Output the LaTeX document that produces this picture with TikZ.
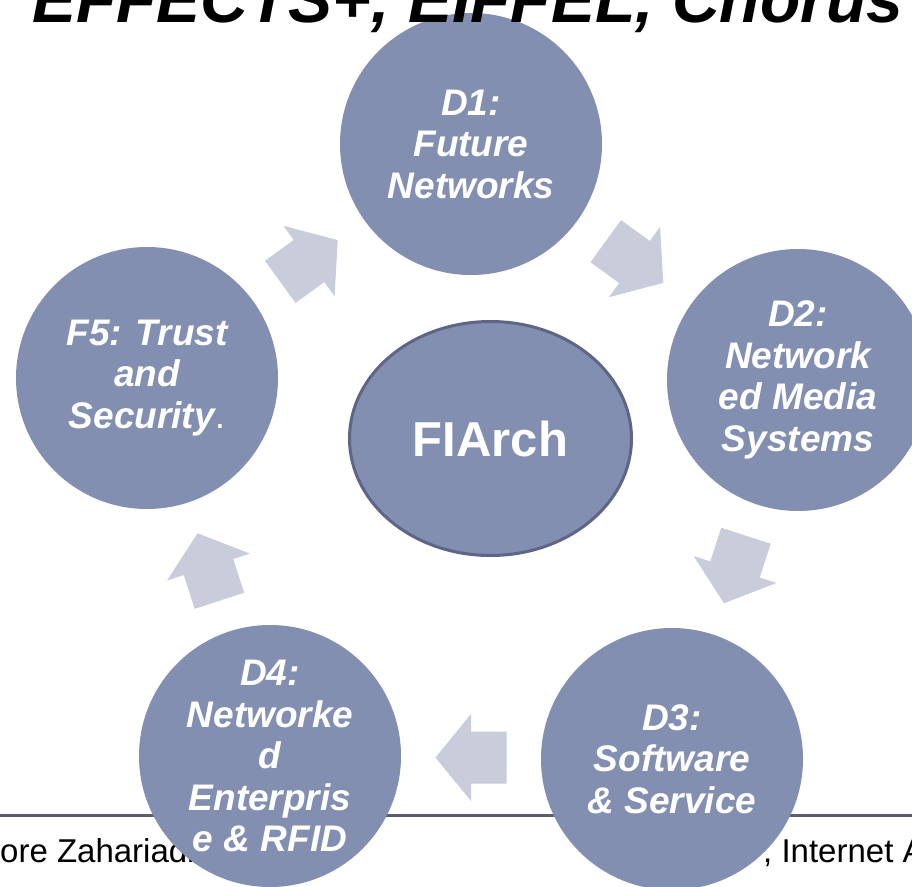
\documentclass[tikz,border=0pt]{standalone}
\usepackage{fontspec}
\setmainfont{Liberation Sans}
\usetikzlibrary{calc,shapes.geometric}
\definecolor{circfill}{HTML}{828FB0}
\definecolor{ellborder}{HTML}{5E6587}
\definecolor{arrfill}{HTML}{C9CCDA}
\definecolor{footline}{HTML}{5D5D72}
\begin{document}
\begin{tikzpicture}[x=1pt,y=1pt,
  stage/.style={circle, fill=circfill, minimum size=262pt, inner sep=0pt,
    text=white, align=center, font=\bfseries\itshape\fontsize{37}{41.5}\selectfont},
  hub/.style={ellipse, fill=circfill, draw=ellborder, line width=3pt,
    minimum width=282pt, minimum height=234pt, inner sep=0pt,
    text=white, font=\bfseries\fontsize{49}{55}\selectfont},
  blockarrow/.style={fill=arrfill},
  footer/.style={anchor=base west, inner sep=0pt, font=\fontsize{33}{38}\selectfont},
  title/.style={anchor=base west, inner sep=0pt, font=\bfseries\itshape\fontsize{66}{70}\selectfont}
]
\useasboundingbox (0,0) rectangle (912,-886);
\clip (0,0) rectangle (912,-886);
\fill[white] (0,0) rectangle (912,-886);

% footer rule and texts
\coordinate (fl) at (0,-815);
\coordinate (fr) at (912,-815);
\draw[footline, line width=3pt] (fl) -- (fr);
\node[footer] (foot1) at (0,-862) {\llap{Theod}ore Zahariadis};
\node[footer] (foot2) at (763,-862) {, Internet Architecture};

% stages
\node[stage] (d1) at (471,-144) {D1:\\Future\\Networks};
\node[stage] (d2) at (798,-380) {D2:\\Network\\ed Media\\Systems};
\node[stage] (d3) at (672,-759) {D3:\\Software\\\& Service};
\node[stage] (d4) at (270,-756) {D4:\\Networke\\d\\Enterpris\\e \& RFID};
\node[stage] (f5) at (147,-378) {F5: Trust\\and\\Security{\normalfont.}};

% hub
\node[hub] (hub) at (490.5,-438.5) {FIArch};

% block arrows between stages
\foreach \a/\b/\ang in {f5/d1/36, d1/d2/-36, d2/d3/-108, d3/d4/180, d4/f5/108}{
  \coordinate (m-\a) at ($(\a)!0.5!(\b)$);
  \fill[blockarrow, shift={(m-\a)}, rotate=\ang]
    (35.5,0) -- (0,43.5) -- (0,26) -- (-35.5,26) -- (-35.5,-26) -- (0,-26) -- (0,-43.5) -- cycle;
}

% cut-off title
\node[title] (ttl) at (32,-22) {EFFECTS+, EIFFEL, Chorus};
\end{tikzpicture}
\end{document}
